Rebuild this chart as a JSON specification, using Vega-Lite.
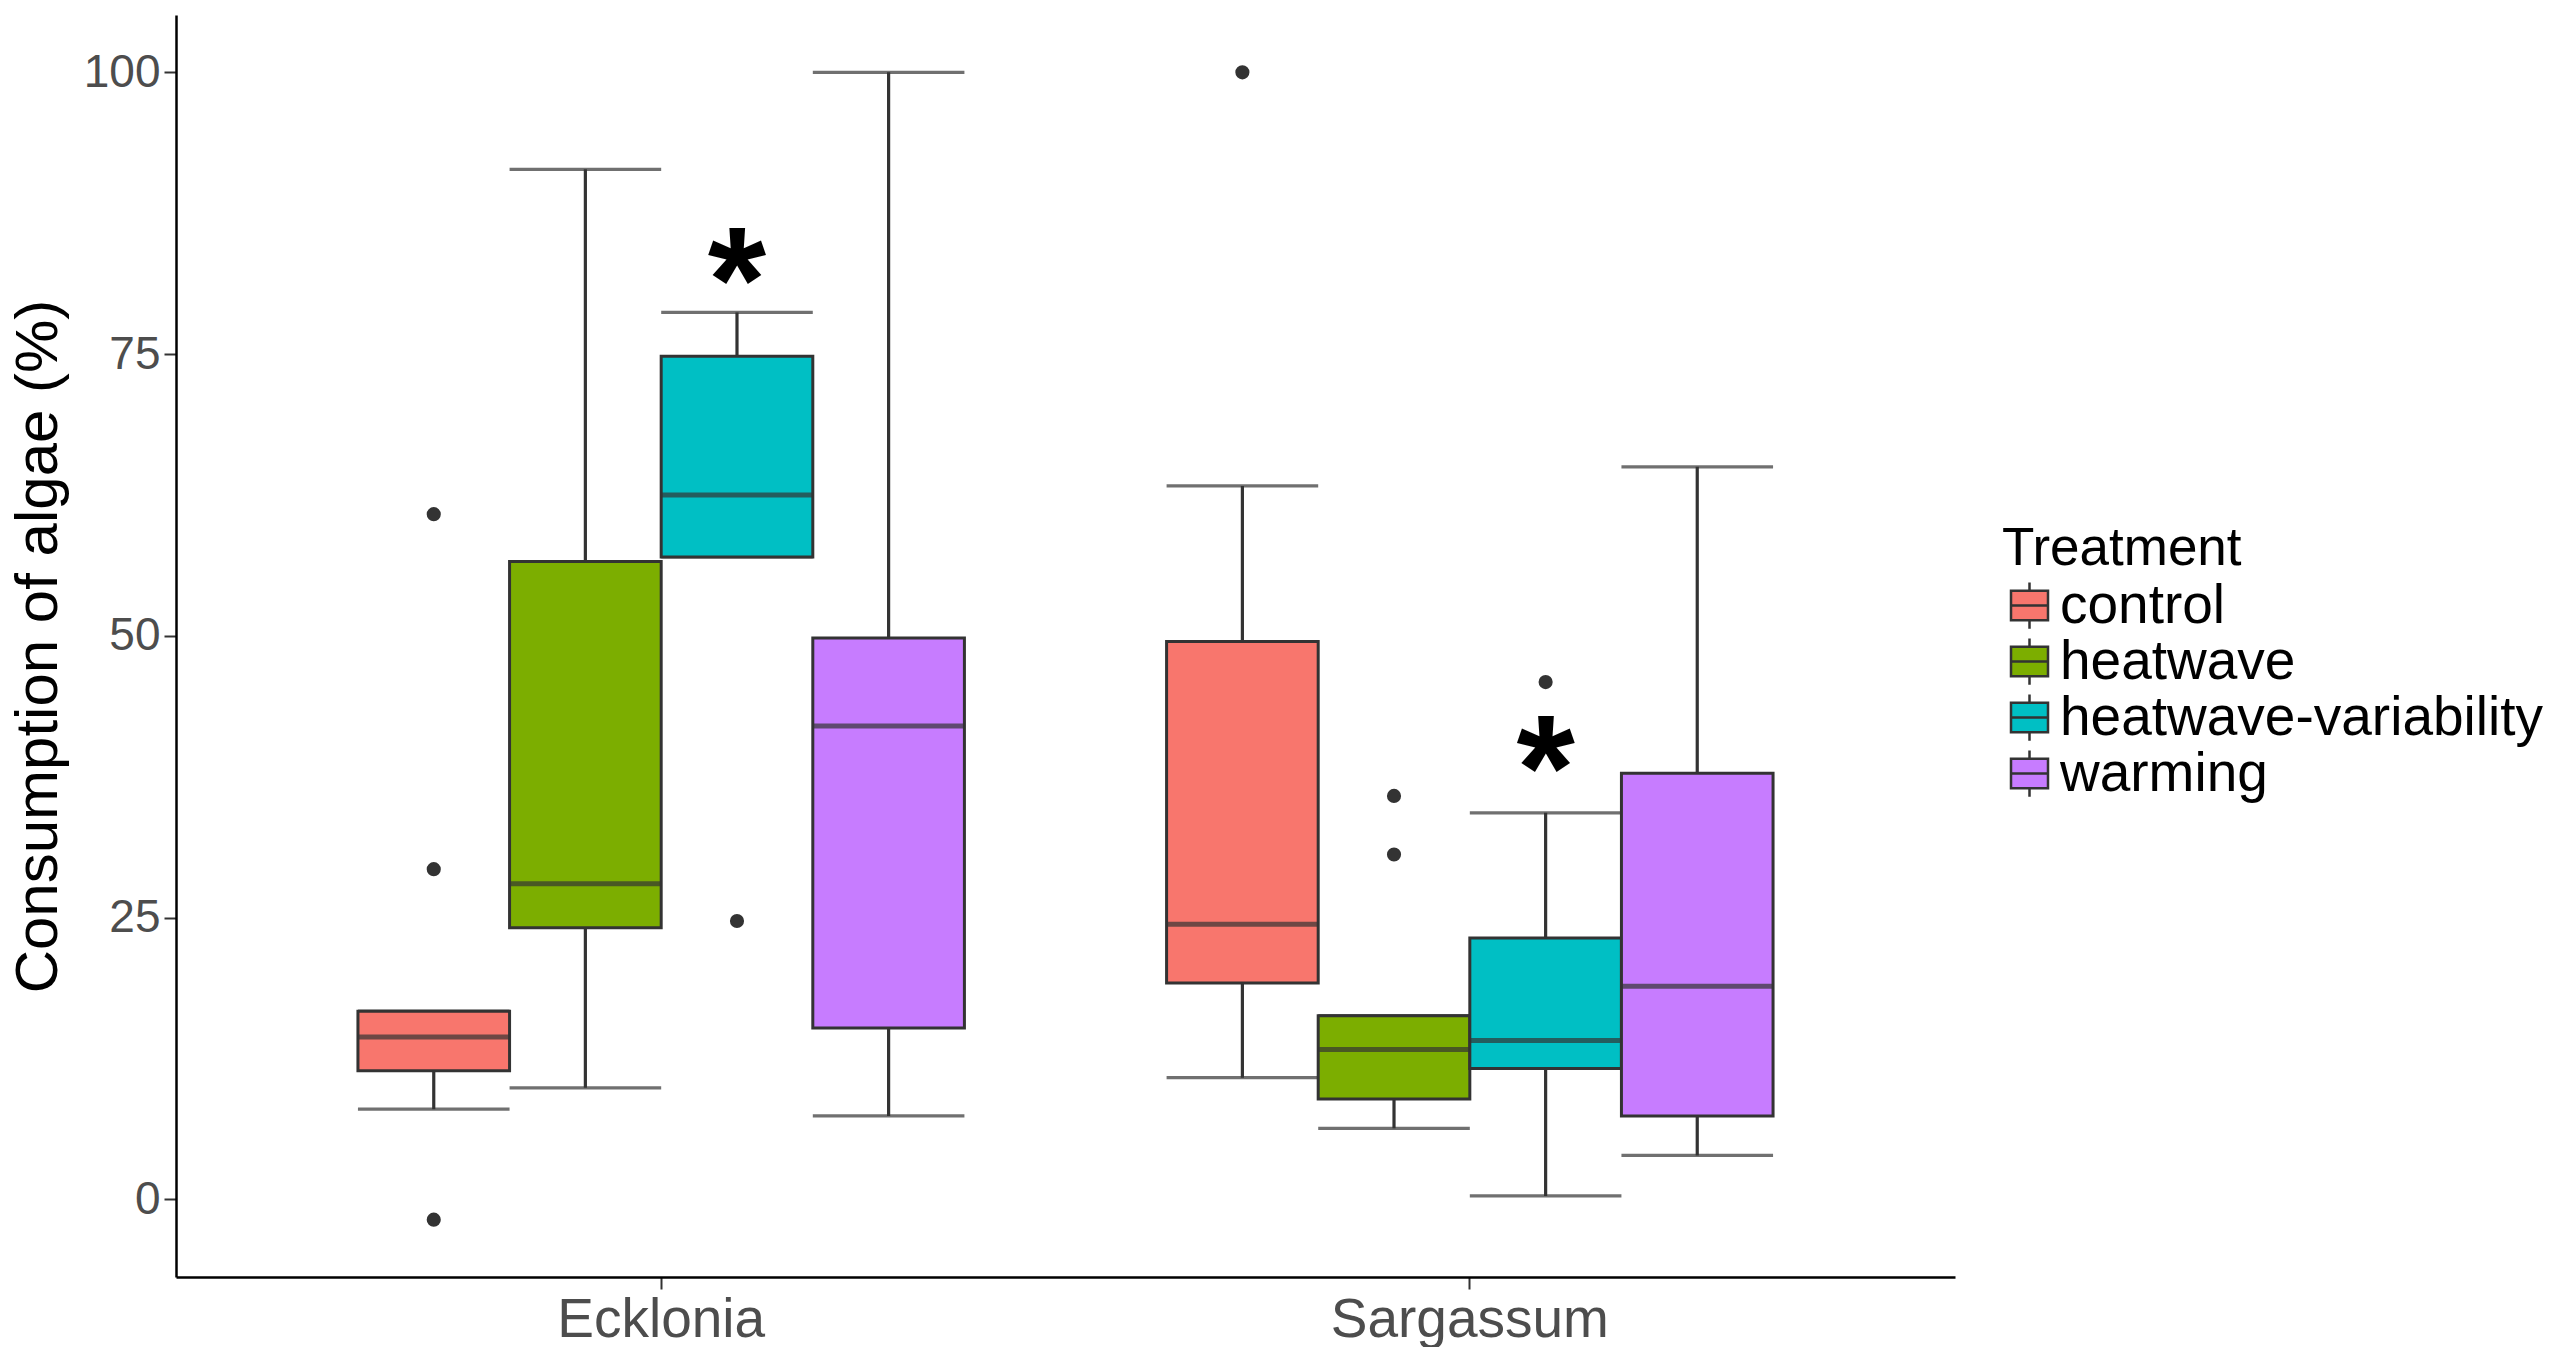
{
  "$schema": "https://vega.github.io/schema/vega-lite/v6.json",
  "width": 1779,
  "height": 1262,
  "autosize": {"type": "none"},
  "padding": {"left": 176, "top": 15, "right": 605, "bottom": 70},
  "background": "white",
  "config": {"view": {"stroke": null}, "font": "Liberation Sans"},
  "datasets": {
    "boxes": [
      {"Alga": "Ecklonia", "Treatment": "control", "lower": 8.0, "q1": 11.4, "median": 14.4, "q3": 16.7, "upper": 16.7},
      {"Alga": "Ecklonia", "Treatment": "heatwave", "lower": 9.9, "q1": 24.1, "median": 28.0, "q3": 56.6, "upper": 91.4},
      {"Alga": "Ecklonia", "Treatment": "heatwave-variability", "lower": 57.0, "q1": 57.0, "median": 62.5, "q3": 74.8, "upper": 78.7},
      {"Alga": "Ecklonia", "Treatment": "warming", "lower": 7.4, "q1": 15.2, "median": 42.0, "q3": 49.8, "upper": 100.0},
      {"Alga": "Sargassum", "Treatment": "control", "lower": 10.8, "q1": 19.2, "median": 24.4, "q3": 49.5, "upper": 63.3},
      {"Alga": "Sargassum", "Treatment": "heatwave", "lower": 6.3, "q1": 8.9, "median": 13.3, "q3": 16.3, "upper": 16.3},
      {"Alga": "Sargassum", "Treatment": "heatwave-variability", "lower": 0.3, "q1": 11.6, "median": 14.1, "q3": 23.2, "upper": 34.3},
      {"Alga": "Sargassum", "Treatment": "warming", "lower": 3.9, "q1": 7.4, "median": 18.9, "q3": 37.8, "upper": 65.0}
    ],
    "outliers": [
      {"Alga": "Ecklonia", "Treatment": "control", "value": 60.8},
      {"Alga": "Ecklonia", "Treatment": "control", "value": 29.3},
      {"Alga": "Ecklonia", "Treatment": "control", "value": -1.8},
      {"Alga": "Ecklonia", "Treatment": "heatwave-variability", "value": 24.7},
      {"Alga": "Sargassum", "Treatment": "control", "value": 100.0},
      {"Alga": "Sargassum", "Treatment": "heatwave", "value": 35.8},
      {"Alga": "Sargassum", "Treatment": "heatwave", "value": 30.6},
      {"Alga": "Sargassum", "Treatment": "heatwave-variability", "value": 45.9}
    ],
    "stars": [
      {"Alga": "Ecklonia", "Treatment": "heatwave-variability", "value": 83.3, "label": "*"},
      {"Alga": "Sargassum", "Treatment": "heatwave-variability", "value": 40.0, "label": "*"}
    ]
  },
  "encoding": {
    "x": {
      "field": "Alga", "type": "nominal",
      "scale": {"paddingInner": 0.25, "paddingOuter": 0.225},
      "axis": {
        "title": null, "labelAngle": 0, "labelFontSize": 55, "labelColor": "#4D4D4D", "labelLimit": 0,
        "tickSize": 12, "tickWidth": 2, "tickColor": "#333333", "domainColor": "#000000", "domainWidth": 2.5,
        "labelPadding": 4, "grid": false
      }
    },
    "xOffset": {
      "field": "Treatment", "type": "nominal",
      "scale": {"domain": ["control", "heatwave", "heatwave-variability", "warming"], "paddingInner": 0, "paddingOuter": 0}
    }
  },
  "layer": [
    {
      "data": {"name": "boxes"},
      "mark": {"type": "rule", "color": "#333333", "strokeWidth": 3.2},
      "encoding": {
        "y": {
          "field": "lower", "type": "quantitative",
          "scale": {"domain": [-6.89, 105.09], "nice": false, "zero": false},
          "axis": {
            "values": [0, 25, 50, 75, 100], "title": "Consumption of algae (%)",
            "titleFontSize": 60, "titleFontWeight": "normal", "titleColor": "#000000", "titleLimit": 0,
            "titleX": -138, "titleBaseline": "middle",
            "labelFontSize": 46, "labelColor": "#4D4D4D", "tickSize": 12, "tickWidth": 2, "tickColor": "#333333",
            "domainColor": "#000000", "domainWidth": 2.5, "labelPadding": 4, "grid": false
          }
        },
        "y2": {"field": "upper"}
      }
    },
    {
      "data": {"name": "boxes"},
      "mark": {"type": "tick", "color": "#333333", "thickness": 3.2, "size": 151.6},
      "encoding": {"y": {"field": "lower", "type": "quantitative"}}
    },
    {
      "data": {"name": "boxes"},
      "mark": {"type": "tick", "color": "#333333", "thickness": 3.2, "size": 151.6},
      "encoding": {"y": {"field": "upper", "type": "quantitative"}}
    },
    {
      "data": {"name": "boxes"},
      "mark": {"type": "bar", "stroke": "#333333", "strokeWidth": 3, "opacity": 1},
      "encoding": {
        "y": {"field": "q1", "type": "quantitative"},
        "y2": {"field": "q3"},
        "color": {
          "field": "Treatment", "type": "nominal",
          "scale": {"domain": ["control", "heatwave", "heatwave-variability", "warming"], "range": ["#F8766D", "#7CAE00", "#00BFC4", "#C77CFF"]},
          "legend": {
            "title": "Treatment", "orient": "none", "legendX": 1826, "legendY": 508, "padding": 0,
            "titleFontSize": 53, "titleFontWeight": "normal", "titleColor": "#000000", "titlePadding": 2, "titleLimit": 0,
            "labelFontSize": 55, "labelColor": "#000000", "labelOffset": 3, "labelLimit": 0,
            "symbolType": "M-1,-0.8H1V0.8H-1Z M-1,0H1 M0,-0.8V-1.25 M0,0.8V1.25",
            "symbolSize": 1369, "symbolStrokeColor": "#333333", "symbolStrokeWidth": 2.5, "symbolOpacity": 1,
            "rowPadding": -20
          }
        }
      }
    },
    {
      "data": {"name": "boxes"},
      "mark": {"type": "tick", "color": "#333333", "thickness": 5, "size": 151.6},
      "encoding": {"y": {"field": "median", "type": "quantitative"}}
    },
    {
      "data": {"name": "outliers"},
      "mark": {"type": "circle", "color": "#333333", "opacity": 1, "size": 200},
      "encoding": {"y": {"field": "value", "type": "quantitative"}}
    },
    {
      "data": {"name": "stars"},
      "mark": {"type": "text", "color": "#000000", "fontSize": 150, "fontWeight": "bold", "baseline": "alphabetic", "dy": 71},
      "encoding": {"y": {"field": "value", "type": "quantitative"}, "text": {"field": "label"}}
    }
  ]
}
